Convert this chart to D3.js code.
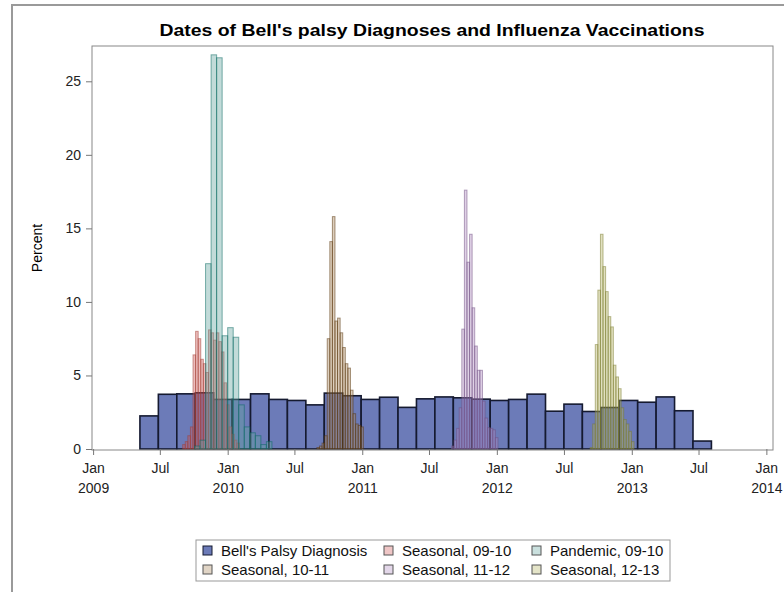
<!DOCTYPE html>
<html>
  <head>
    <meta charset="utf-8">
    <title>Dates of Bell's palsy Diagnoses and Influenza Vaccinations</title>
    <script src="https://d3js.org/d3.v7.min.js"></script>
    <style>
      body { margin: 0; background: #fff; }
      svg { display: block; font-family: "Liberation Sans", Arial, sans-serif; }
      .tick text { font-size: 14px; fill: #222; }
      .tick line, .domain { stroke: #777; }
    </style>
  </head>
  <body>
    <svg id="chart" width="784" height="592"></svg>
    <script>
      // data: percent of each group per bin (bin start date, bin width in days)
      bellStart = "2009-05-08";
      bellDays = 50;
      bellPct = [2.25, 3.72, 3.75, 3.82, 3.37, 3.37, 3.75, 3.37, 3.3, 3.0, 3.8,
                 3.62, 3.37, 3.52, 2.83, 3.41, 3.54, 3.48, 3.39, 3.3, 3.37, 3.73,
                 2.57, 3.05, 2.55, 2.82, 3.3, 3.18, 3.54, 2.6, 0.54];

      seas0910Start = "2009-09-01";
      seas0910Pct = [0.3, 0.5, 0.9, 1.5, 6.4, 8.0, 7.5, 6.1, 5.8, 5.2, 8.1, 7.9,
                     7.4, 7.9, 7.3, 6.6, 4.5, 3.0, 1.5, 1.0, 0.6, 0.4];

      pand0910Start = "2009-10-03";
      pand0910Days = 15;
      pand0910Pct = [0.2, 0.6, 12.6, 26.8, 26.6, 7.7, 8.25, 7.6, 3.0, 1.5, 1.1,
                     0.9, 0.3, 0.5];

      seas1011Start = "2010-08-31";
      seas1011Pct = [0.1, 0.2, 0.4, 0.9, 7.5, 14.1, 15.8, 8.7, 8.9, 7.9, 6.9,
                     5.8, 5.5, 4.0, 2.4, 1.7, 1.6, 1.5];

      seas1112Start = "2011-08-31";
      seas1112Pct = [0.2, 0.6, 1.4, 2.8, 8.15, 17.6, 12.7, 14.6, 9.6, 7.0, 5.35,
                     5.35, 3.25, 2.1, 1.45, 1.4, 1.3, 0.77];

      seas1213Start = "2012-09-10";
      seas1213Pct = [0.1, 1.7, 7.1, 10.8, 14.6, 12.4, 10.7, 9.0, 8.3, 5.7, 4.9,
                     4.1, 2.8, 2.0, 1.7, 1.2, 0.5];

      weekDays = 7;
      xTickDates = ["2009-01-01", "2009-07-01", "2010-01-01", "2010-07-01",
                    "2011-01-01", "2011-07-01", "2012-01-01", "2012-07-01",
                    "2013-01-01", "2013-07-01", "2014-01-01"];
      yTicks = [0, 5, 10, 15, 20, 25];
      legendLabels = ["Bell's Palsy Diagnosis", "Seasonal, 09-10", "Pandemic, 09-10",
                      "Seasonal, 10-11", "Seasonal, 11-12", "Seasonal, 12-13"];
      colors = ["#6C7BB8", "#D05B5B", "#66A5A0", "#A9865B", "#B08CC0", "#B3B262"];
      outlines = ["#151a30", "#A23A2E", "#01665E", "#543005", "#6E4C80", "#777A2A"];

      parse = d3.utcParse("%Y-%m-%d");
      series = [
        { start: bellStart, days: bellDays, values: bellPct },
        { start: seas0910Start, days: weekDays, values: seas0910Pct },
        { start: pand0910Start, days: pand0910Days, values: pand0910Pct },
        { start: seas1011Start, days: weekDays, values: seas1011Pct },
        { start: seas1112Start, days: weekDays, values: seas1112Pct },
        { start: seas1213Start, days: weekDays, values: seas1213Pct }
      ].map(function(s, i) {
        var t0 = parse(s.start);
        return {
          index: i,
          color: colors[i],
          outline: outlines[i],
          bins: s.values.map(function(v, j) {
            return {
              x0: d3.utcDay.offset(t0, j * s.days),
              x1: d3.utcDay.offset(t0, (j + 1) * s.days),
              pct: v
            };
          })
        };
      });

      // layout
      chart = d3.select("#chart");
      plot = { left: 92, right: 773, top: 46, bottom: 449 };

      x = d3.scaleUtc()
        .domain([parse("2008-12-29"), parse("2014-01-19")])
        .range([plot.left, plot.right]);
      y = d3.scaleLinear()
        .domain([0, 27.4])
        .range([plot.bottom, plot.top]);

      // outer frame
      chart.append("rect")
        .attr("x", 12).attr("y", 5)
        .attr("width", 800).attr("height", 600)
        .attr("fill", "none")
        .attr("stroke", "#9a9a9a")
        .attr("stroke-width", 2);

      // title
      chart.append("text")
        .attr("x", 432).attr("y", 36)
        .attr("text-anchor", "middle")
        .attr("textLength", 545)
        .attr("lengthAdjust", "spacingAndGlyphs")
        .style("font-size", "17px")
        .style("font-weight", "bold")
        .text("Dates of Bell's palsy Diagnoses and Influenza Vaccinations");

      // bars
      barGroup = chart.append("g");
      series.forEach(function(s) {
        barGroup.append("g")
          .selectAll("rect")
          .data(s.bins)
          .join("rect")
            .attr("x", function(d) { return x(d.x0); })
            .attr("width", function(d) { return x(d.x1) - x(d.x0); })
            .attr("y", function(d) { return y(d.pct); })
            .attr("height", function(d) { return y(0) - y(d.pct); })
            .attr("fill", s.color)
            .attr("fill-opacity", s.index === 0 ? 1 : 0.4)
            .attr("stroke", s.outline)
            .attr("stroke-opacity", s.index === 0 ? 1 : 0.5)
            .attr("stroke-width", s.index === 0 ? 1.6 : 1);
      });

      // plot frame
      chart.append("rect")
        .attr("x", plot.left).attr("y", plot.top)
        .attr("width", plot.right - plot.left)
        .attr("height", plot.bottom - plot.top + 1)
        .attr("fill", "none")
        .attr("stroke", "#888");

      // axes
      yAxis = d3.axisLeft(y)
        .tickValues(yTicks)
        .tickSize(6)
        .tickSizeOuter(0)
        .tickPadding(5);
      chart.append("g")
        .attr("transform", "translate(" + plot.left + ",0)")
        .call(yAxis)
        .select(".domain").remove();

      fmtMonth = d3.utcFormat("%b");
      fmtYear = d3.utcFormat("%Y");
      xAxis = d3.axisBottom(x)
        .tickValues(xTickDates.map(parse))
        .tickSize(6)
        .tickSizeOuter(0)
        .tickFormat(function(d) { return fmtMonth(d); });
      xAxisGroup = chart.append("g")
        .attr("transform", "translate(0," + plot.bottom + ")")
        .call(xAxis);
      xAxisGroup.select(".domain").remove();
      xAxisGroup.selectAll(".tick text")
        .attr("y", 14)
        .each(function(d) {
          if (d.getUTCMonth() === 0) {
            d3.select(this).append("tspan")
              .attr("x", 0)
              .attr("dy", "1.45em")
              .text(fmtYear(d));
          }
        });

      // y label
      chart.append("text")
        .attr("transform", "translate(42,248) rotate(-90)")
        .attr("text-anchor", "middle")
        .style("font-size", "14px")
        .text("Percent");

      // legend
      legend = chart.append("g");
      legend.append("rect")
        .attr("x", 196).attr("y", 540)
        .attr("width", 474).attr("height", 41)
        .attr("fill", "#fff")
        .attr("stroke", "#999");
      colX = [203, 384, 532];
      rowY = [551, 570];
      legendItems = legend.selectAll("g.item")
        .data(legendLabels)
        .join("g")
          .attr("class", "item")
          .attr("transform", function(d, i) {
            return "translate(" + colX[i % 3] + "," + rowY[Math.floor(i / 3)] + ")";
          });
      legendItems.append("rect")
        .attr("x", 0).attr("y", -5)
        .attr("width", 9).attr("height", 9)
        .attr("fill", function(d, i) { return colors[i]; })
        .attr("fill-opacity", function(d, i) { return i === 0 ? 1 : 0.35; })
        .attr("stroke", function(d, i) { return i === 0 ? "#151a30" : "#555"; });
      legendItems.append("text")
        .attr("x", 18).attr("y", 5)
        .style("font-size", "15px")
        .attr("fill", "#111")
        .text(function(d) { return d; });
    </script>
  </body>
</html>
